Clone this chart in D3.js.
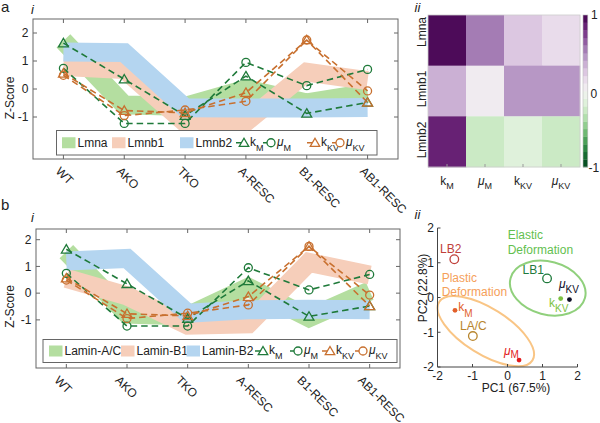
<!DOCTYPE html>
<html><head><meta charset="utf-8">
<script src="https://cdn.jsdelivr.net/npm/d3@7"></script>
<style>body{margin:0;background:#fff} svg{display:block} text{font-family:"Liberation Sans",Arial,sans-serif;fill:#222}</style>
</head><body><svg id="c" width="600" height="423"></svg>
<script>
// ---------------- data ----------------
const conditions = ["WT","AKO","TKO","A-RESC","B1-RESC","AB1-RESC"];
const lineYTicks = [-1,0,1,2];
// panel a-i : gene expression z-scores
const geneNames = ["Lmna","Lmnb1","Lmnb2"];
const lmna  = [1.72,-0.57,-0.62,0.0,-0.5,-0.15];
const lmnb1 = [0.8,0.7,-1.2,-1.18,0.6,0.3];
const lmnb2 = [1.32,1.3,-0.67,-0.68,-0.68,-0.66];
// panel b-i : protein z-scores
const proteinNames = ["Lamin-A/C","Lamin-B1","Lamin-B2"];
const laminAC = [1.55,-0.78,-0.85,0.22,-0.92,0.08];
const laminB1 = [0.55,-0.1,-1.2,-1.15,1.15,0.68];
const laminB2 = [1.2,1.3,-0.75,-0.62,-0.6,-0.62];
// mechanical parameters (z-scores)
const kM   = [1.64,0.35,-0.95,0.46,-0.87,-0.48];
const muM  = [0.74,-1.23,-1.23,0.95,0.12,0.7];
const kKV  = [0.56,-0.77,-0.85,-0.13,1.75,-0.48];
const muKV = [0.49,-0.95,-0.75,-0.44,1.75,-0.07];
// panel a-ii : correlation heatmap
const corrRows = ["Lmna","Lmnb1","Lmnb2"];
const corrCols = [["k","M"],["μ","M"],["k","KV"],["μ","KV"]];
const corrLmna  = [0.9,0.6,0.3,0.16];
const corrLmnb1 = [0.36,0.04,0.5,0.5];
const corrLmnb2 = [0.8,-0.26,-0.16,-0.27];
const cbTicks = [-1,0,1];
// panel b-ii : PCA
const pcaNames = ["LB2","LB1","LA/C","kM","muM","kKV","muKV"];
const pc1 = [-1.52,1.13,-0.99,-1.5,0.33,1.52,1.77];
const pc2 = [1.1,0.55,-1.11,-0.37,-1.8,-0.03,-0.06];
const pcTicks = [-2,-1,0,1,2];

// ---------------- style ----------------
const FONT = 12;
const bandColors = ["#b4dea0","#f6ceba","#b4d5f0"];
const dGreen = "#1f7a3a", dOrange = "#c8702f";
const axisCol = "#666";
const svg = d3.select("#c");

function subText(g, x, y, main, sub, o = {}) {
  const t = g.append("text").attr("x", x).attr("y", y)
    .attr("font-size", o.size || FONT).attr("text-anchor", o.anchor || "start");
  if (o.fill) t.style("fill", o.fill);
  const m = t.append("tspan").text(main);
  if (main === "μ") m.attr("font-style", "italic");
  t.append("tspan").attr("dy", o.dy || 5).attr("font-size", o.subSize || 9).text(sub);
  return t;
}

function triPath(s) { return `M0,${-s}L${s*0.95},${s*0.62}L${-s*0.95},${s*0.62}Z`; }

// ---------------- line panels ----------------
function linePanel(cfg) {
  const g = svg.append("g");
  const x = d3.scaleLinear([0.5, 6.5], [cfg.x0, cfg.x1]);
  const y = d3.scaleLinear(cfg.yDom, [cfg.y1, cfg.y0]);
  const line = d3.line().x((d, i) => x(i + 1)).y(d => y(d));
  cfg.bands.forEach((b, k) => {
    g.append("path").datum(b).attr("d", line).attr("fill", "none")
      .attr("stroke", bandColors[k]).attr("stroke-width", 19)
      .attr("stroke-linejoin", "miter").attr("stroke-linecap", "butt");
  });
  const series = [
    {v: kM, c: dGreen, m: "tri"}, {v: muM, c: dGreen, m: "cir"},
    {v: kKV, c: dOrange, m: "tri"}, {v: muKV, c: dOrange, m: "cir"}];
  series.forEach(s => {
    g.append("path").datum(s.v).attr("d", line).attr("fill", "none")
      .attr("stroke", s.c).attr("stroke-width", 1.6).attr("stroke-dasharray", "6.5,4");
  });
  series.forEach(s => {
    s.v.forEach((d, i) => {
      if (s.m === "tri") g.append("path").attr("d", triPath(5.2))
        .attr("transform", `translate(${x(i+1)},${y(d)+0.5})`)
        .attr("fill", "none").attr("stroke", s.c).attr("stroke-width", 1.3);
      else g.append("circle").attr("cx", x(i+1)).attr("cy", y(d)).attr("r", 4)
        .attr("fill", "none").attr("stroke", s.c).attr("stroke-width", 1.3);
    });
  });
  g.append("rect").attr("x", cfg.x0).attr("y", cfg.y0).attr("width", cfg.x1 - cfg.x0)
    .attr("height", cfg.y1 - cfg.y0).attr("fill", "none").attr("stroke", axisCol).attr("stroke-width", 1);
  lineYTicks.forEach(t => {
    g.append("line").attr("x1", cfg.x0).attr("x2", cfg.x0 + 4).attr("y1", y(t)).attr("y2", y(t)).attr("stroke", axisCol);
    g.append("line").attr("x1", cfg.x1 - 4).attr("x2", cfg.x1).attr("y1", y(t)).attr("y2", y(t)).attr("stroke", axisCol);
    g.append("text").attr("x", cfg.x0 - 4.5).attr("y", y(t) + 4.3).attr("text-anchor", "end")
      .attr("font-size", FONT).text(t);
  });
  conditions.forEach((c, i) => {
    g.append("line").attr("x1", x(i+1)).attr("x2", x(i+1)).attr("y1", cfg.y1).attr("y2", cfg.y1 - 4).attr("stroke", axisCol);
    g.append("line").attr("x1", x(i+1)).attr("x2", x(i+1)).attr("y1", cfg.y0).attr("y2", cfg.y0 + 4).attr("stroke", axisCol);
    g.append("text").attr("transform", `translate(${x(i+1) + cfg.labDx},${cfg.y1 + 13}) rotate(45)`)
      .attr("font-size", FONT).text(c);
  });
  g.append("text").attr("transform", `translate(${cfg.ylabX},${cfg.ylabY}) rotate(-90)`)
    .attr("text-anchor", "middle").attr("font-size", FONT).text("Z-Score");
  const L = cfg.leg;
  g.append("rect").attr("x", L.x0).attr("y", L.y0).attr("width", L.x1 - L.x0).attr("height", L.y1 - L.y0)
    .attr("fill", "#fff").attr("stroke", axisCol);
  const ly = (L.y0 + L.y1) / 2;
  cfg.bandNames.forEach((n, k) => {
    g.append("rect").attr("x", L.sw[k]).attr("y", ly - 5.5).attr("width", 13.5).attr("height", 11).attr("fill", bandColors[k]);
    g.append("text").attr("x", L.sw[k] + 15.5).attr("y", ly + 4.3).attr("font-size", FONT).text(n);
  });
  const legSym = [["tri", dGreen, "k", "M"], ["cir", dGreen, "μ", "M"], ["tri", dOrange, "k", "KV"], ["cir", dOrange, "μ", "KV"]];
  legSym.forEach((s, k) => {
    const cx = L.mk[k];
    g.append("line").attr("x1", cx - 7).attr("x2", cx + 2).attr("y1", ly).attr("y2", ly).attr("stroke", s[1]).attr("stroke-width", 1.5);
    if (s[0] === "tri") g.append("path").attr("d", triPath(5)).attr("transform", `translate(${cx + 1},${ly + 0.5})`)
      .attr("fill", "#fff").attr("stroke", s[1]).attr("stroke-width", 1.3);
    else g.append("circle").attr("cx", cx + 1).attr("cy", ly).attr("r", 4).attr("fill", "#fff").attr("stroke", s[1]).attr("stroke-width", 1.3);
    subText(g, cx + 7, ly + 3, s[2], s[3], {dy: 5, subSize: 9});
  });
}

linePanel({x0: 33, x1: 398, y0: 19, y1: 159, yDom: [-2.5, 2.5], labDx: -8.3,
  ylabX: 13.6, ylabY: 98, bands: [lmna, lmnb1, lmnb2], bandNames: geneNames,
  leg: {x0: 56.5, x1: 377, y0: 130.5, y1: 155, sw: [62, 112, 180], mk: [243, 270, 314, 339]}});
linePanel({x0: 36, x1: 400, y0: 229, y1: 368, yDom: [-2.8, 2.4], labDx: -12.5,
  ylabX: 14.3, ylabY: 306.5, bands: [laminAC, laminB1, laminB2], bandNames: proteinNames,
  leg: {x0: 43, x1: 397, y0: 339.5, y1: 362.5, sw: [49, 121, 186.5], mk: [262, 297, 329, 362]}});

// ---------------- heatmap ----------------
(function () {
  const g = svg.append("g");
  const x = d3.scaleBand().domain(d3.range(4)).range([428, 580]);
  const y = d3.scaleBand().domain(d3.range(3)).range([15, 167]);
  const nLev = 20;
  const col = v => {
    const idx = Math.max(0, Math.min(nLev - 1, Math.floor((1 - v) / 2 * nLev)));
    return d3.interpolatePRGn((idx + 0.5) / nLev);
  };
  [corrLmna, corrLmnb1, corrLmnb2].forEach((row, r) => {
    row.forEach((v, c) => {
      g.append("rect").attr("x", x(c)).attr("y", y(r)).attr("width", x.bandwidth() + 0.3)
        .attr("height", y.bandwidth() + 0.3).attr("fill", col(v));
    });
  });
  g.append("rect").attr("x", 428).attr("y", 15).attr("width", 152).attr("height", 152)
    .attr("fill", "none").attr("stroke", "#ccc").attr("stroke-width", 0.8);
  const labY = [32, 89, 140];
  corrRows.forEach((n, r) => {
    g.append("text").attr("transform", `translate(425.5,${labY[r]}) rotate(-90)`)
      .attr("text-anchor", "middle").attr("font-size", FONT).text(n);
  });
  corrCols.forEach((c, i) => {
    const cx = x(i) + x.bandwidth() / 2;
    g.append("line").attr("x1", cx).attr("x2", cx).attr("y1", 167).attr("y2", 164).attr("stroke", "#999");
    subText(g, cx, 184.5, c[0], c[1], {anchor: "middle", dy: 4, subSize: 9});
  });
  const cy = d3.scaleLinear([-1, 1], [167, 15]);
  d3.range(nLev).forEach(k => {
    const v0 = -1 + 2 * k / nLev, v1 = -1 + 2 * (k + 1) / nLev;
    g.append("rect").attr("x", 583).attr("y", cy(v1)).attr("width", 4.8).attr("height", cy(v0) - cy(v1) + 0.3)
      .attr("fill", col((v0 + v1) / 2));
  });
  g.append("rect").attr("x", 583).attr("y", 15).attr("width", 4.8).attr("height", 152)
    .attr("fill", "none").attr("stroke", "#bbb").attr("stroke-width", 0.6);
  const cbX = {"-1": 588.5, "0": 590.5, "1": 591};
  const cbY = {"-1": 172, "0": 97.5, "1": 19};
  cbTicks.forEach(t => {
    g.append("text").attr("x", cbX[t]).attr("y", cbY[t]).attr("font-size", FONT).text(t);
  });
})();

// ---------------- PCA ----------------
(function () {
  const g = svg.append("g");
  const x = d3.scaleLinear([-2, 2], [437.5, 577.5]);
  const y = d3.scaleLinear([-2, 2], [367, 228]);
  g.append("ellipse").attr("transform", `translate(${x(1.15)},${y(0.27)}) rotate(15)`)
    .attr("rx", 38.5).attr("ry", 26.5).attr("fill", "none").attr("stroke", "#90d07c").attr("stroke-width", 2);
  g.append("ellipse").attr("transform", `translate(${x(-0.62)},${y(-0.97)}) rotate(32)`)
    .attr("rx", 55).attr("ry", 23).attr("fill", "none").attr("stroke", "#f9c585").attr("stroke-width", 2);
  g.append("line").attr("x1", x(-2)).attr("x2", x(-2)).attr("y1", y(2)).attr("y2", y(-2)).attr("stroke", "#444");
  g.append("line").attr("x1", x(-2)).attr("x2", x(2)).attr("y1", y(-2)).attr("y2", y(-2)).attr("stroke", "#444");
  pcTicks.forEach(t => {
    g.append("line").attr("x1", x(-2)).attr("x2", x(-2) + 3).attr("y1", y(t)).attr("y2", y(t)).attr("stroke", "#444");
    g.append("line").attr("x1", x(t)).attr("x2", x(t)).attr("y1", y(-2)).attr("y2", y(-2) - 3).attr("stroke", "#444");
    g.append("text").attr("x", x(-2) - 3.5).attr("y", y(t) + 4.3).attr("text-anchor", "end").attr("font-size", FONT).text(t);
    g.append("text").attr("x", x(t)).attr("y", y(-2) + 12.5).attr("text-anchor", "middle").attr("font-size", FONT).text(t);
  });
  g.append("text").attr("x", 516).attr("y", 391.5).attr("text-anchor", "middle").attr("font-size", FONT).text("PC1 (67.5%)");
  g.append("text").attr("transform", "translate(427,288) rotate(-90)").attr("text-anchor", "middle")
    .attr("font-size", FONT).text("PC2 (22.8%)");
  const ptCol = ["#c0403a", "#1f7a3c", "#b8862e", "#e2602b", "#e31a1c", "#7dc242", "#0d0d26"];
  const open = [true, true, true, false, false, false, false];
  pcaNames.forEach((n, i) => {
    if (open[i]) g.append("circle").attr("cx", x(pc1[i])).attr("cy", y(pc2[i])).attr("r", 4.3)
      .attr("fill", "none").attr("stroke", ptCol[i]).attr("stroke-width", 1.3);
    else g.append("circle").attr("cx", x(pc1[i])).attr("cy", y(pc2[i])).attr("r", 2.4).attr("fill", ptCol[i]);
  });
  const lab = (t, xx, yy, c) => g.append("text").attr("x", xx).attr("y", yy).attr("font-size", FONT).style("fill", c).text(t);
  lab("LB2", 440, 252.5, ptCol[0]);
  lab("LB1", 522.5, 274, ptCol[1]);
  lab("LA/C", 460, 330, ptCol[2]);
  subText(g, 458.3, 311, "k", "M", {fill: ptCol[3], dy: 5.5, subSize: 10});
  subText(g, 504, 355, "μ", "M", {fill: ptCol[4], dy: 3, subSize: 10});
  subText(g, 549, 306.5, "k", "KV", {fill: ptCol[5], dy: 5, subSize: 10});
  subText(g, 559, 288, "μ", "KV", {fill: ptCol[6], dy: 5, subSize: 10});
  lab("Elastic", 507.7, 239, "#63bf4f");
  lab("Deformation", 507.7, 254, "#63bf4f");
  lab("Plastic", 441.7, 281.5, "#f5a05a");
  lab("Deformation", 441.7, 296, "#f5a05a");
})();

// ---------------- panel letters ----------------
svg.append("text").attr("x", 1).attr("y", 12).attr("font-size", 15).text("a");
svg.append("text").attr("x", 1).attr("y", 210).attr("font-size", 15).text("b");
[["i", 31, 13.5], ["ii", 414.5, 11.5], ["i", 31, 221.5], ["ii", 414.5, 218.5]].forEach(d => {
  svg.append("text").attr("x", d[1]).attr("y", d[2]).attr("font-size", 13).attr("font-style", "italic").text(d[0]);
});
</script></body></html>
